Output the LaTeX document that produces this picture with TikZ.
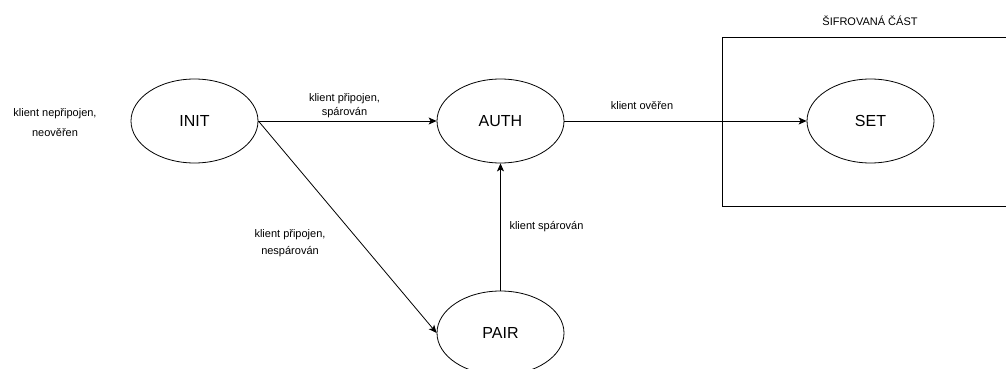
\documentclass[tikz,border=0pt]{standalone}
\usepackage{fontspec}
\setmainfont{Liberation Sans}
\usetikzlibrary{arrows.meta,shapes.geometric}

\tikzset{
  state/.style={draw,ellipse,line width=0.8pt,minimum width=127pt,minimum height=84pt,inner sep=0pt,font=\fontsize{16}{19}\selectfont},
  lbl/.style={align=center,inner sep=0pt,font=\fontsize{11}{14}\selectfont},
  trans/.style={line width=0.8pt,-{Stealth[length=8pt,width=7pt,inset=2pt]}}
}

\begin{document}
\begin{tikzpicture}[x=1pt,y=-1pt]
\clip (0,0) rectangle (1006,369);
% encrypted part
\draw[line width=0.8pt] (722,37) rectangle (1012,206);
\node[lbl] (enclbl) at (870,21) {ŠIFROVANÁ ČÁST};
% states
\node[state] (init) at (194.5,121) {INIT};
\node[state] (auth) at (500.5,121) {AUTH};
\node[state] (pair) at (500.5,333) {PAIR};
\node[state] (set) at (870.5,121) {SET};
% labels
\node[lbl,font=\fontsize{11}{20}\selectfont] (initlbl) at (55,123) {klient nepřipojen,\\neověřen};
\node[lbl] (conlbl) at (344.5,106) {klient připojen,\\spárován};
\node[lbl,font=\fontsize{11}{17}\selectfont] (nplbl) at (290,243.5) {klient připojen,\\nespárován};
\node[lbl] (pairlbl) at (546.5,227) {klient spárován};
\node[lbl] (authlbl) at (642,106) {klient ověřen};
% transitions
\draw[trans] (init.east) -- (auth.west);
\draw[trans] (init.east) -- (pair.west);
\draw[trans] (pair.north) -- (auth.south);
\draw[trans] (auth.east) -- (set.west);
\end{tikzpicture}
\end{document}
